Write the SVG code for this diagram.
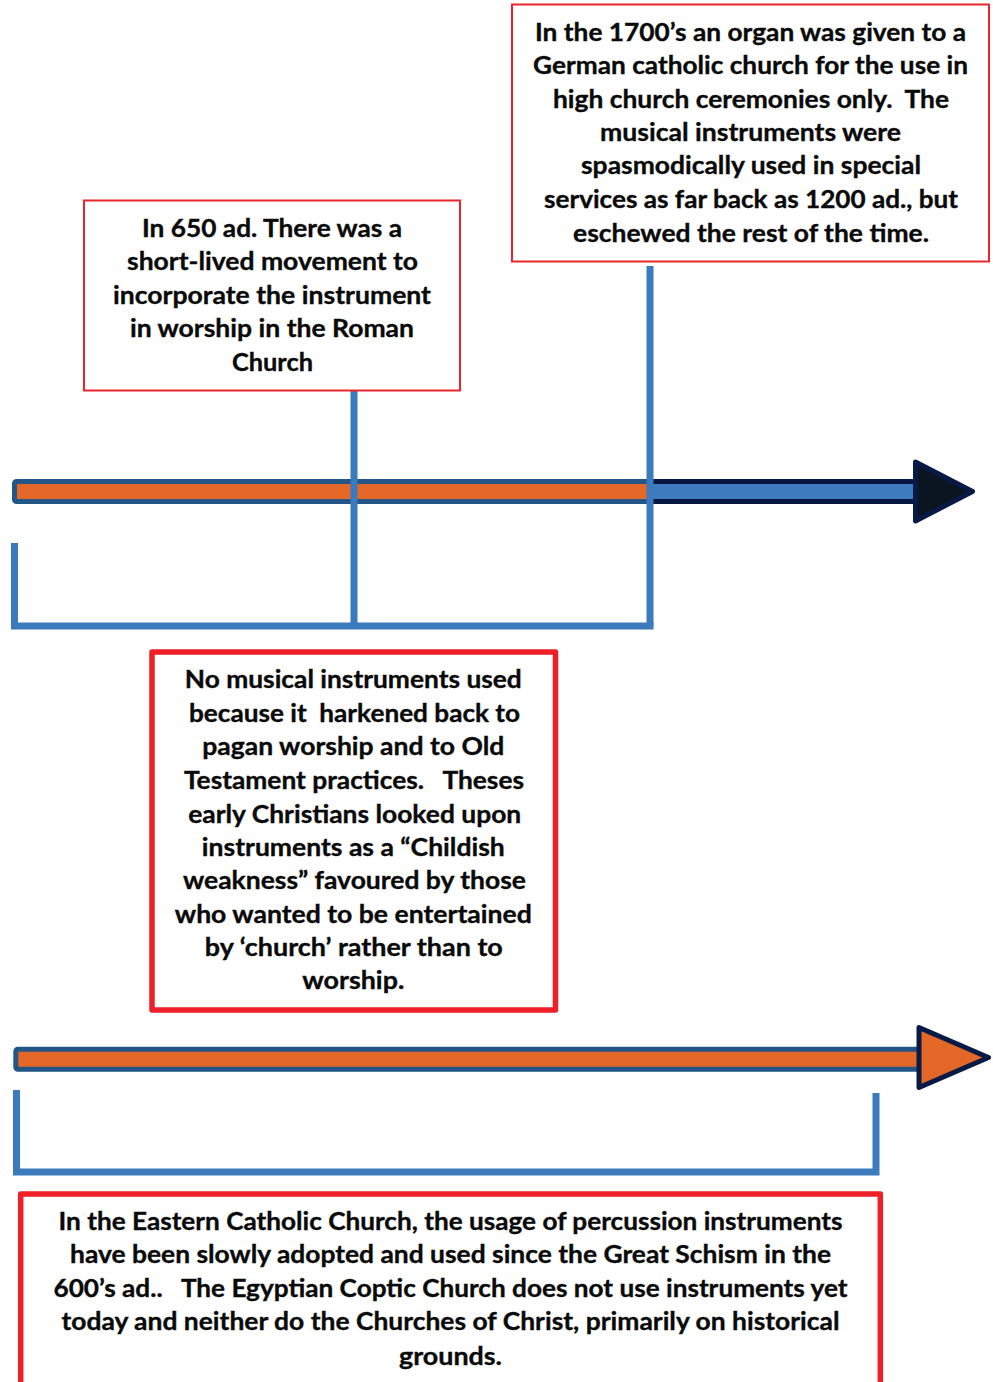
<svg xmlns="http://www.w3.org/2000/svg" width="993" height="1382" viewBox="0 0 993 1382">
<style>
  .t { font-family: Lato, "Liberation Sans", Arial, sans-serif; font-weight: bold; font-size: 24px; fill: #0a0a0a; stroke: #0a0a0a; stroke-width: 0.35; text-anchor: middle; white-space: pre; }
  .box-thin { fill: #ffffff; stroke: #e8262d; stroke-width: 2; }
  .box-thick { fill: #ffffff; stroke: #ee1f26; stroke-width: 5.5; stroke-linejoin: round; }
  .bar-or { fill: #e36726; stroke: #235687; stroke-width: 5; }
  .bar-bl { fill: #3d7bbd; stroke: #061840; stroke-width: 5; }
  .conn { fill: none; stroke: #3a7abd; stroke-width: 7; stroke-linejoin: miter; stroke-linecap: butt; }
  .head { stroke: #071a45; stroke-width: 5; stroke-linejoin: round; }
</style>

<g id="timeline1">
  <rect class="bar-bl" x="640" y="481.5" width="280" height="20"/>
  <rect class="bar-or" x="14.5" y="481.5" width="635" height="20" rx="2"/>
  <polygon class="head" fill="#0b1522" points="915.5,462 972.5,491.5 915.5,521"/>
</g>

<g id="timeline2">
  <rect class="bar-or" x="15.8" y="1049.2" width="905" height="20" rx="2"/>
  <polygon class="head" fill="#e36726" points="919,1027.5 988.5,1057.5 919,1087.5"/>
</g>

<g id="connectors">
  <path class="conn" d="M354 391 V626"/>
  <path class="conn" d="M650 266 V626"/>
  <path class="conn" d="M14.5 543 V626 H653.5"/>
  <path class="conn" d="M16.5 1090 V1172 H876 V1093"/>
</g>

<g id="node-1700">
  <rect class="box-thin" x="512" y="4.5" width="477" height="257"/>
  <text class="t" x="750.5" y="41" textLength="431" lengthAdjust="spacingAndGlyphs">In the 1700’s an organ was given to a</text>
  <text class="t" x="750.5" y="74" textLength="435" lengthAdjust="spacingAndGlyphs">German catholic church for the use in</text>
  <text class="t" x="751" y="107.5" textLength="396" lengthAdjust="spacingAndGlyphs">high church ceremonies only.  The</text>
  <text class="t" x="750.5" y="140.5" textLength="301" lengthAdjust="spacingAndGlyphs">musical instruments were</text>
  <text class="t" x="751" y="174" textLength="340" lengthAdjust="spacingAndGlyphs">spasmodically used in special</text>
  <text class="t" x="751" y="208" textLength="414" lengthAdjust="spacingAndGlyphs">services as far back as 1200 ad., but</text>
  <text class="t" x="751" y="241.5" textLength="356" lengthAdjust="spacingAndGlyphs">eschewed the rest of the time.</text>
</g>

<g id="node-650">
  <rect class="box-thin" x="84" y="200.5" width="376" height="190"/>
  <text class="t" x="272" y="236.7" textLength="260" lengthAdjust="spacingAndGlyphs">In 650 ad. There was a</text>
  <text class="t" x="272.5" y="270" textLength="291" lengthAdjust="spacingAndGlyphs">short-lived movement to</text>
  <text class="t" x="272" y="303.5" textLength="318" lengthAdjust="spacingAndGlyphs">incorporate the instrument</text>
  <text class="t" x="272" y="337" textLength="284" lengthAdjust="spacingAndGlyphs">in worship in the Roman</text>
  <text class="t" x="272.5" y="370.5" textLength="81" lengthAdjust="spacingAndGlyphs">Church</text>
</g>

<g id="node-early">
  <rect class="box-thick" x="152" y="652" width="403.5" height="358"/>
  <text class="t" x="353.3" y="688.3" textLength="337" lengthAdjust="spacingAndGlyphs">No musical instruments used</text>
  <text class="t" x="354.5" y="721.7" textLength="331" lengthAdjust="spacingAndGlyphs">because it  harkened back to</text>
  <text class="t" x="353.3" y="755" textLength="302" lengthAdjust="spacingAndGlyphs">pagan worship and to Old</text>
  <text class="t" x="354" y="789" textLength="340" lengthAdjust="spacingAndGlyphs">Testament practices.   Theses</text>
  <text class="t" x="354.7" y="822.5" textLength="333" lengthAdjust="spacingAndGlyphs">early Christians looked upon</text>
  <text class="t" x="353.3" y="856" textLength="303" lengthAdjust="spacingAndGlyphs">instruments as a “Childish</text>
  <text class="t" x="354.5" y="889" textLength="343" lengthAdjust="spacingAndGlyphs">weakness” favoured by those</text>
  <text class="t" x="353.3" y="922.5" textLength="357" lengthAdjust="spacingAndGlyphs">who wanted to be entertained</text>
  <text class="t" x="353.8" y="956" textLength="298" lengthAdjust="spacingAndGlyphs">by ‘church’ rather than to</text>
  <text class="t" x="353.3" y="989" textLength="102" lengthAdjust="spacingAndGlyphs">worship.</text>
</g>

<g id="node-eastern">
  <rect class="box-thick" x="20.7" y="1194" width="859.6" height="192"/>
  <text class="t" x="450.5" y="1229.5" textLength="784" lengthAdjust="spacingAndGlyphs">In the Eastern Catholic Church, the usage of percussion instruments</text>
  <text class="t" x="450.5" y="1263" textLength="761" lengthAdjust="spacingAndGlyphs">have been slowly adopted and used since the Great Schism in the</text>
  <text class="t" x="450.5" y="1296.5" textLength="794" lengthAdjust="spacingAndGlyphs">600’s ad..   The Egyptian Coptic Church does not use instruments yet</text>
  <text class="t" x="450.5" y="1330" textLength="778" lengthAdjust="spacingAndGlyphs">today and neither do the Churches of Christ, primarily on historical</text>
  <text class="t" x="450.5" y="1364.5" textLength="103" lengthAdjust="spacingAndGlyphs">grounds.</text>
</g>
</svg>
